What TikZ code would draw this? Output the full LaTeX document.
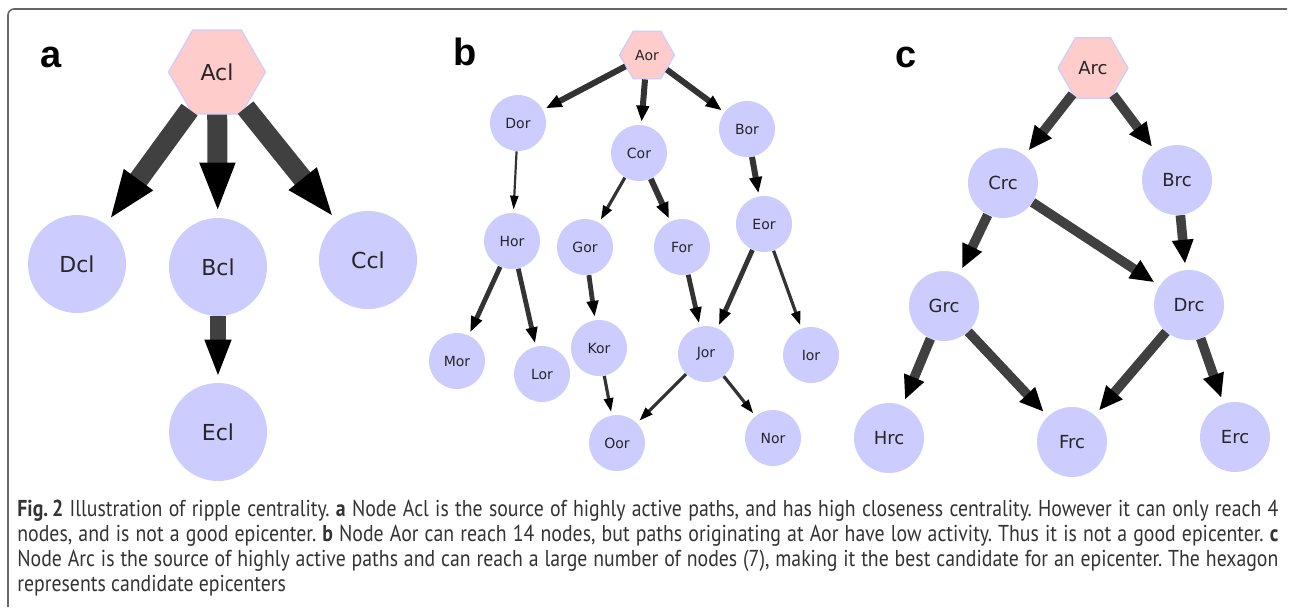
\documentclass[tikz,border=0pt]{standalone}
\usepackage{fontspec}
\setmainfont{PT Sans}
\newfontfamily\captionfont{PT Sans}[FakeStretch=0.86]
\newfontfamily\nodefont{DejaVu Sans}
\newfontfamily\panelfont{Liberation Sans}
\usetikzlibrary{arrows.meta,shapes.geometric}
\frenchspacing

\definecolor{lavender}{RGB}{204,204,255}
\definecolor{rosefill}{RGB}{255,204,204}
\definecolor{shaftgrey}{RGB}{64,64,64}

\begin{document}
\begin{tikzpicture}[x=0.5pt,y=-0.5pt,
  source node/.style={regular polygon,regular polygon sides=6,fill=rosefill,draw=lavender,line width=0.6pt,inner sep=0pt,text=black!85},
  main node/.style={circle,fill=lavender,inner sep=0pt,text=black!85},
  panel label/.style={anchor=base west,inner sep=0pt,font=\panelfont\bfseries\fontsize{19}{19}\selectfont},
  heavy/.style={draw=shaftgrey,line width=10pt,shorten >=2.5pt,-{Triangle[length=25pt,width=16pt,color=black]}},
  medium/.style={draw=shaftgrey,line width=8pt,shorten >=2.5pt,-{Triangle[length=19pt,width=12pt,color=black]}},
  wide/.style={draw=shaftgrey,line width=4.8pt,shorten >=3pt,-{Triangle[length=12pt,width=10pt,color=black]}},
  thick/.style={draw=shaftgrey!80!black,line width=3pt,shorten >=1.5pt,-{Triangle[length=8pt,width=6pt,color=black]}},
  mid/.style={draw=shaftgrey!80!black,line width=2.4pt,shorten >=1.5pt,-{Triangle[length=8pt,width=5.5pt,color=black]}},
  slim/.style={draw=shaftgrey!80!black,line width=1.6pt,shorten >=1.5pt,-{Triangle[length=7pt,width=4.5pt,color=black]}},
  hair/.style={draw=shaftgrey!80!black,line width=1.1pt,shorten >=1.5pt,-{Triangle[length=7pt,width=4pt,color=black]}}]
  \useasboundingbox (0,0) rectangle (1289,607);

  % frame round figure and caption
  \draw[black!60,line width=0.8pt,rounded corners=3pt] (8,607) -- (8,9) -- (1287,9);

  % panel a
  \node[panel label] (la) at (40,67) {a};
  \begin{scope}[every node/.append style={font=\nodefont\fontsize{11}{13}\selectfont}]
    \node[source node,minimum size=48.5pt] (Acl) at (217,72) {Acl};
    \node[main node,minimum size=49pt] (Dcl) at (77,264) {Dcl};
    \node[main node,minimum size=49pt] (Bcl) at (218,267) {Bcl};
    \node[main node,minimum size=49pt] (Ccl) at (368,260) {Ccl};
    \node[main node,minimum size=49pt] (Ecl) at (218,432) {Ecl};
  \end{scope}
  \path (Acl) edge[heavy] (Dcl)
        (Acl) edge[heavy] (Bcl)
        (Acl) edge[heavy] (Ccl)
        (Bcl) edge[medium] (Ecl);

  % panel b
  \node[panel label] (lb) at (453,65) {b};
  \begin{scope}[every node/.append style={font=\nodefont\fontsize{7}{8}\selectfont}]
    \node[source node,minimum size=27.5pt] (Aor) at (647,55) {Aor};
    \node[main node,minimum size=28pt] (Dor) at (518,123) {Dor};
    \node[main node,minimum size=28pt] (Cor) at (639,153) {Cor};
    \node[main node,minimum size=28pt] (Bor) at (747,129) {Bor};
    \node[main node,minimum size=28pt] (Hor) at (512,241) {Hor};
    \node[main node,minimum size=28pt] (Gor) at (585,247) {Gor};
    \node[main node,minimum size=28pt] (For) at (682,247) {For};
    \node[main node,minimum size=28pt] (Eor) at (764,224) {Eor};
    \node[main node,minimum size=28pt] (Mor) at (457,361) {Mor};
    \node[main node,minimum size=28pt] (Lor) at (542,374) {Lor};
    \node[main node,minimum size=28pt] (Kor) at (599,348) {Kor};
    \node[main node,minimum size=28pt] (Jor) at (706,354) {Jor};
    \node[main node,minimum size=28pt] (Ior) at (811,355) {Ior};
    \node[main node,minimum size=28pt] (Oor) at (617,443) {Oor};
    \node[main node,minimum size=28pt] (Nor) at (773,438) {Nor};
  \end{scope}
  \path (Aor) edge[thick] (Dor)
        (Aor) edge[thick] (Cor)
        (Aor) edge[thick] (Bor)
        (Dor) edge[hair] (Hor)
        (Bor) edge[thick] (Eor)
        (Cor) edge[slim] (Gor)
        (Cor) edge[thick] (For)
        (Hor) edge[mid] (Mor)
        (Hor) edge[mid] (Lor)
        (Gor) edge[mid] (Kor)
        (For) edge[mid] (Jor)
        (Eor) edge[mid] (Jor)
        (Eor) edge[slim] (Ior)
        (Kor) edge[slim] (Oor)
        (Jor) edge[slim] (Oor)
        (Jor) edge[slim] (Nor);

  % panel c
  \node[panel label] (lc) at (895,67) {c};
  \begin{scope}[every node/.append style={font=\nodefont\fontsize{9}{11}\selectfont}]
    \node[source node,minimum size=35pt] (Arc) at (1093,68) {Arc};
    \node[main node,minimum size=35pt] (Crc) at (1003,183) {Crc};
    \node[main node,minimum size=35pt] (Brc) at (1177,180) {Brc};
    \node[main node,minimum size=35pt] (Grc) at (944,306) {Grc};
    \node[main node,minimum size=35pt] (Drc) at (1189,305) {Drc};
    \node[main node,minimum size=35pt] (Hrc) at (889,438) {Hrc};
    \node[main node,minimum size=35pt] (Frc) at (1072,442) {Frc};
    \node[main node,minimum size=35pt] (Erc) at (1235,437) {Erc};
  \end{scope}
  \path (Arc) edge[wide] (Crc)
        (Arc) edge[wide] (Brc)
        (Crc) edge[wide] (Grc)
        (Crc) edge[wide] (Drc)
        (Brc) edge[wide] (Drc)
        (Grc) edge[wide] (Hrc)
        (Grc) edge[wide] (Frc)
        (Drc) edge[wide] (Frc)
        (Drc) edge[wide] (Erc);

  % caption
  \node[anchor=base west,text width=630.5pt,align=justify,inner sep=0pt,text=black!80,
        font=\captionfont\fontsize{11.5}{12.65}\selectfont] (caption) at (17,516)
    {\textbf{Fig.\,2} Illustration of ripple centrality. \textbf{a} Node Acl is the source of highly active paths, and has high closeness centrality. However it can only reach 4\linebreak
     nodes, and is not a good epicenter. \textbf{b} Node Aor can reach 14 nodes, but paths originating at Aor have low activity. Thus it is not a good epicenter. \textbf{c}\linebreak
     Node Arc is the source of highly active paths and can reach a large number of nodes (7), making it the best candidate for an epicenter. The hexagon\linebreak
     represents candidate epicenters};
\end{tikzpicture}
\end{document}
